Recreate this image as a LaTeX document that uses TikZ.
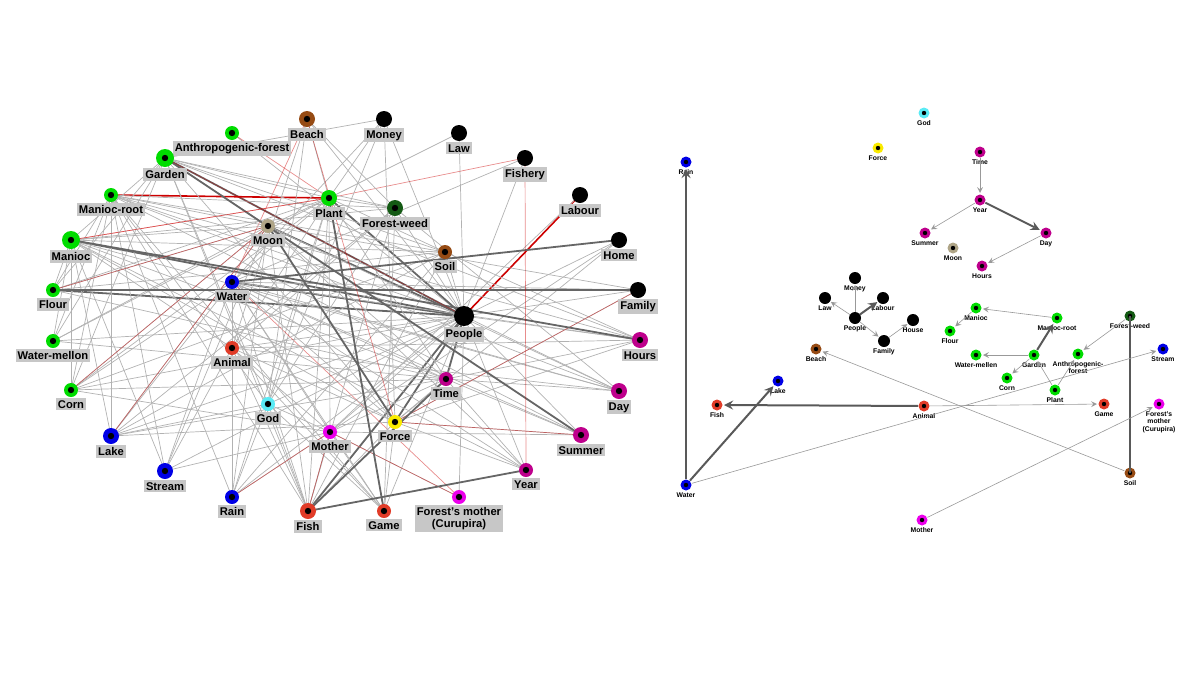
\documentclass[tikz,border=0pt]{standalone}
\usepackage{fontspec}
\setmainfont{Liberation Sans}
\begin{document}
\begin{tikzpicture}[x=0.5pt,y=-0.5pt,
 lab/.style={fill=black!22,inner sep=1pt,font=\bfseries\fontsize{5.6}{6}\selectfont,anchor=north},
 rlab/.style={inner sep=0.5pt,font=\bfseries\fontsize{3.4}{3.8}\selectfont,anchor=north,align=center},
 ge/.style={draw=black!30,line width=0.35pt},
 de/.style={draw=black!60,line width=0.9pt},
 re/.style={draw=red!80!black,line width=0.35pt,opacity=0.45},
 ar/.style={draw=black!40,line width=0.3pt,-stealth,shorten >=3.5pt,shorten <=3pt},
 tar/.style={draw=black!65,line width=1pt,-stealth,shorten >=3.5pt,shorten <=3pt}]
\useasboundingbox (0,0) rectangle (1200,675);
\definecolor{cg}{RGB}{0,220,0}\definecolor{cb}{RGB}{0,0,230}\definecolor{cbr}{RGB}{150,75,20}
\definecolor{cmag}{RGB}{190,0,140}\definecolor{cpk}{RGB}{235,0,235}\definecolor{cr}{RGB}{225,60,40}
\definecolor{ccy}{RGB}{90,235,245}\definecolor{cmo}{RGB}{175,165,135}\definecolor{cy}{RGB}{250,235,0}
\definecolor{cdg}{RGB}{20,90,20}\definecolor{ck}{RGB}{0,0,0}
\foreach \n/\x/\y in {
 AF/232/133, Ga/165/158, Be/307/119, Mo/384/119, La/459/133, Fi/525/158, Lb/580/195, Ho/619/240,
 Fa/638/290, Hr/640/340, Da/619/391, Su/581/435, Ye/526/470, Gm/384/511, Fs/308/511, Ra/232/497,
 St/165/471, Lk/111/436, Co/71/390, WM/53/341, Fl/53/290, Ma/71/240, MR/111/195, Pl/329/198,
 FW/395/208, Mn/268/226, So/445/252, Wa/232/282, Pe/464/316, An/232/348, Ti/446/379, Gd/268/404,
 Mt/330/432, Fo/395/422, FM/459/497}
 {\coordinate (\n) at (\x,\y);}
% edges
\foreach \a in {MR,WM,Co,Lk,St,Ra,Gm,Mt,Ye,Su,Da,Hr,Fa,Ho,Fi,La,Mo,Be,An,Gd,So,FW,AF,FM}{\path[ge] (Pe)--(\a);}
\foreach \a in {Ga,Ma,Fl,Fs,Fo,Ti,Pl,Mn,Wa}{\path[de] (Pe)--(\a);}
\foreach \a in {Co,WM,Mn,Wa,So,FW,Be,Mo,An,Fs,Gm,Mt,Gd,Ti,La,Ra,Ga,Fl}{\path[ge] (Pl)--(\a);}
\foreach \a in {Ma,Fi,AF}{\path[re] (Pl)--(\a);}
\path[draw=red!80!black,line width=0.8pt] (MR)--(Pl);
\path[draw=red!80!black,line width=0.8pt] (Pe)--(Lb);
\foreach \a in {Lk,St,Ra,Fs,Co,Mt,Fo,Hr,Da,Fa,Fi,Mo,Ti,Su,Gm,Ye}{\path[ge] (Wa)--(\a);}
\foreach \a in {Be,FM}{\path[re] (Wa)--(\a);}
\foreach \a in {Ye,Da,Hr,Su,Mn,Fo,WM,Lk,Ma,Fl,Co}{\path[ge] (Ti)--(\a);}
\foreach \a in {Fs,Gm,Ra,FW,St,Mt,Fo,Ma,Hr,Da,Be}{\path[ge] (An)--(\a);}
\foreach \a in {FM,St,Co,Ra,Fs,Gm,Su,Lb,Ho,Ti}{\path[ge] (Mt)--(\a);}
\foreach \a in {Ga,MR,Ma,Fl,WM,Co,Lk,St,Ra,Fs,Ye,Da,Fa}{\path[ge] (Mn)--(\a);}
\foreach \a in {Ga,Ma,Fs,Gm,Lk,Ye,Su,Hr,Ho,Mo,Fa}{\path[ge] (Fo)--(\a);}
\foreach \a in {Ga,MR,Ma,Co,Fl,Ra,Lk,Fs,Hr}{\path[ge] (So)--(\a);}
\foreach \a in {Ga,MR,Ma,Be,Gd,Fs,Gm,Lk,Da}{\path[ge] (FW)--(\a);}
\foreach \a in {Ma,Fl,WM,Co,Gd,Fs,Hr,Mo}{\path[ge] (Ga)--(\a);}
\foreach \a in {Fl,WM,Co,Lk,St,Ra,Fs,Gm,Gd,Su,Hr,Da}{\path[ge] (MR)--(\a);}
\foreach \a in {Fl,Co,WM,Lk,St,Da,Ye,Hr}{\path[ge] (Ma)--(\a);}
\foreach \a in {Lk,Ra,Fs,Gm,Mt,Be,Mo}{\path[ge] (Gd)--(\a);}
\foreach \a in {Ra,Fs,FM}{\path[re] (Mt)--(\a);}
\foreach \a in {Co,Lk}{\path[re] (Mn)--(\a);}
\foreach \a in {Su,Fa}{\path[re] (Fo)--(\a);}
\path[de] (Ma)--(Hr); \path[de] (Ga)--(Su); \path[de] (Mn)--(Fo); \path[de] (Fl)--(Fa);
\path[de] (Fs)--(Ye); \path[de] (Wa)--(Ho); \path[de] (Pl)--(Gm); \path[de] (Fs)--(Ti);
\path[re] (Fi)--(Ye); \path[re] (Be)--(Fo); \path[re] (Ga)--(Pe); \path[re] (Ma)--(Pl); \path[re] (Fl)--(Mn);
% left node drawing
\foreach \n/\x/\y/\c/\t/\s in {
 AF/232/133/cg/Anthropogenic-forest/7, Ga/165/158/cg/Garden/9, Be/307/119/cbr/Beach/8, Mo/384/119/ck/Money/8,
 La/459/133/ck/Law/8, Fi/525/158/ck/Fishery/8, Lb/580/195/ck/Labour/8, Ho/619/240/ck/Home/8,
 Fa/638/290/ck/Family/8, Hr/640/340/cmag/Hours/8, Da/619/391/cmag/Day/8, Su/581/435/cmag/Summer/8,
 Ye/526/470/cmag/Year/7, Gm/384/511/cr/Game/7, Fs/308/511/cr/Fish/8, Ra/232/497/cb/Rain/7,
 St/165/471/cb/Stream/8, Lk/111/436/cb/Lake/8, Co/71/390/cg/Corn/7, WM/53/341/cg/Water-mellon/7,
 Fl/53/290/cg/Flour/7, Ma/71/240/cg/Manioc/9, MR/111/195/cg/Manioc-root/7, Pl/329/198/cg/Plant/8,
 FW/395/208/cdg/Forest-weed/8, Mn/268/226/cmo/Moon/7, So/445/252/cbr/Soil/7, Wa/232/282/cb/Water/7,
 Pe/464/316/ck/People/10, An/232/348/cr/Animal/7, Ti/446/379/cmag/Time/7, Gd/268/404/ccy/God/7,
 Mt/330/432/cpk/Mother/7, Fo/395/422/cy/Force/7}
 {\fill[fill=\c] (\x,\y) circle (\s); \fill[black] (\x,\y) circle (3.2);
  \node[lab] (l\n) at (\x,\y+\s+1) {\t};}
\fill[fill=cpk] (FM) circle (7); \fill[black] (FM) circle (3.2);
\node[lab,align=center] (lFM) at (459,505) {Forest's mother\\(Curupira)};
% right network
\foreach \n/\x/\y/\c/\t in {
 rGd/924/113/ccy/God, rFo/878/148/cy/Force, rTi/980/152/cmag/Time, rYe/980/200/cmag/Year,
 rSu/925/233/cmag/Summer, rDa/1046/233/cmag/Day, rMn/953/248/cmo/Moon, rHr/982/266/cmag/Hours,
 rRa/686/162/cb/Rain, rMo/855/278/ck/Money, rLa/825/298/ck/Law, rLb/883/298/ck/Labour,
 rPe/855/318/ck/People, rHo/913/320/ck/House, rFa/884/341/ck/Family, rMa/976/308/cg/Manioc,
 rMR/1057/318/cg/Manioc-root, rFW/1130/316/cdg/Forest-weed, rFl/950/331/cg/Flour,
 rBe/816/349/cbr/Beach, rWM/976/355/cg/Water-mellen, rGa/1034/355/cg/Garden,
 rAF/1078/354/cg/{Anthropogenic-\\forest}, rSt/1163/349/cb/Stream, rCo/1007/378/cg/Corn,
 rPl/1055/390/cg/Plant, rLk/778/381/cb/Lake, rFs/717/405/cr/Fish, rAn/924/406/cr/Animal,
 rGm/1104/404/cr/Game, rFM/1159/404/cpk/{Forest's\\mother\\(Curupira)}, rWa/686/485/cb/Water,
 rSo/1130/473/cbr/Soil, rMt/922/520/cpk/Mother}
 {\fill[fill=\c] (\x,\y) circle (5.5); \fill[black] (\x,\y) circle (2.2);
  \node[rlab] (\n) at (\x,\y+6) {\t};
  \coordinate (c\n) at (\x,\y);}
\foreach \n in {rLa,rMo,rLb,rPe,rHo,rFa}{\fill[black] (c\n) circle (6);}
\path[tar] (crWa)--(crRa); \path[tar] (crWa)--(crLk); \path[tar] (crAn)--(crFs);
\path[tar] (crYe)--(crDa); \path[tar] (crGa)--(crMR); \path[tar] (crPe)--(crLb);
\draw[black!65,line width=1pt] (crFW)--(crSo);
\path[ar] (crTi)--(crYe); \path[ar] (crYe)--(crSu); \path[ar] (crDa)--(crHr);
\path[ar] (crPe)--(crMo); \path[ar] (crPe)--(crLa); \path[ar] (crPe)--(crFa); \path[ar] (crFa)--(crHo);
\path[ar] (crMR)--(crMa); \path[ar] (crMa)--(crFl); \path[ar] (crGa)--(crWM); \path[ar] (crGa)--(crCo);
\path[ar] (crPl)--(crGa); \path[ar] (crFW)--(crAF); \path[ar] (crPl)--(crAF);
\path[ar] (crWa)--(crSt); \path[ar] (crAn)--(crGm); \path[ar] (crSo)--(crBe); \path[ar] (crMt)--(crFM);
\end{tikzpicture}
\end{document}
